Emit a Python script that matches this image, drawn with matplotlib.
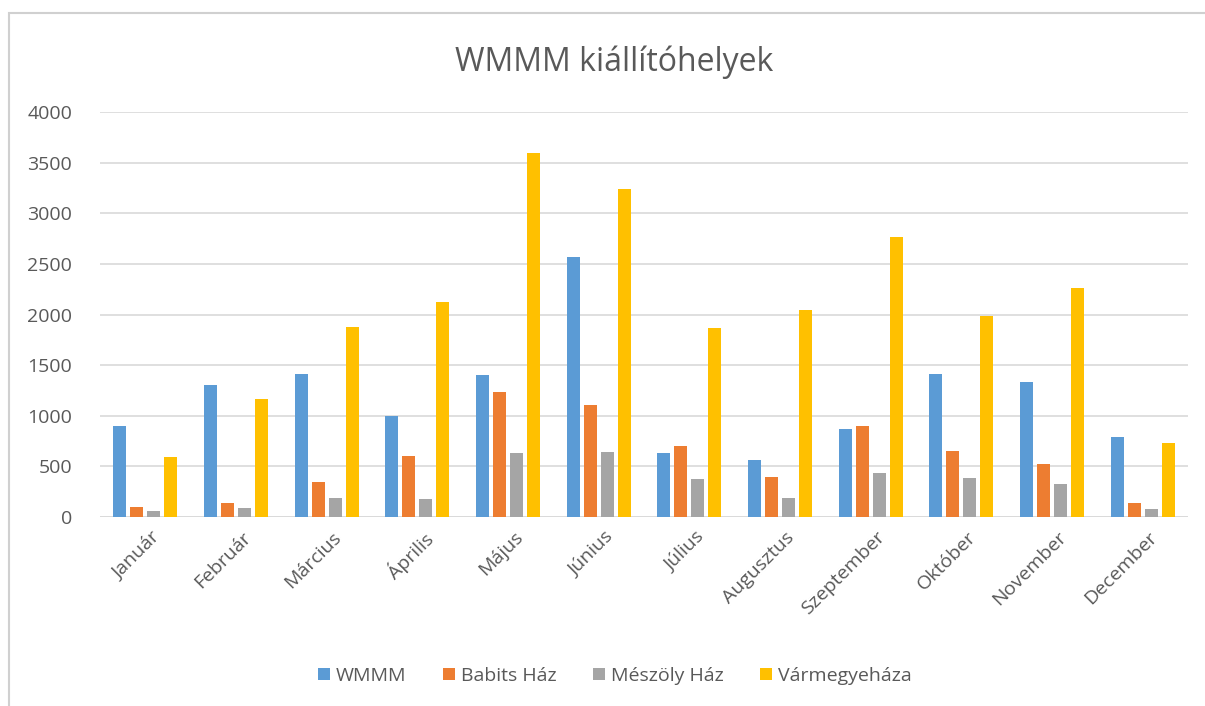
import matplotlib
matplotlib.use("Agg")
import matplotlib.pyplot as plt
import numpy as np
from matplotlib.patches import Rectangle

months = ["Január", "Február", "Március", "Április", "Május", "Június",
          "Július", "Augusztus", "Szeptember", "Október", "November", "December"]
series_names = ["WMMM", "Babits Ház", "Mészöly Ház", "Vármegyeháza"]
wmmm = [900, 1300, 1410, 1000, 1400, 2570, 630, 560, 870, 1410, 1330, 790]
babits = [100, 140, 350, 600, 1230, 1110, 700, 400, 900, 650, 520, 140]
meszoly = [60, 90, 190, 180, 630, 645, 380, 190, 430, 390, 330, 75]
varmegye = [590, 1170, 1880, 2120, 3600, 3240, 1870, 2040, 2770, 1990, 2260, 730]
yticks = [0, 500, 1000, 1500, 2000, 2500, 3000, 3500, 4000]
colors = ["#5B9BD5", "#ED7D31", "#A5A5A5", "#FFC000"]

plt.rcParams['font.family'] = ['Open Sans', 'DejaVu Sans']
fig = plt.figure(figsize=(12.05, 7.06), dpi=100)
fig.patch.set_facecolor("white")
W, H = 1205, 706
# chart border (left/top visible)
fig.patches.append(Rectangle((9 / W, -0.1), 1.2, (706 - 13) / H + 0.1,
                             transform=fig.transFigure, fill=False,
                             edgecolor="#d0d0d0", linewidth=1.5))

ax = fig.add_axes([100 / W, 1 - 517 / H, (1188 - 100) / W, (517 - 112) / H])
x = np.arange(len(months))
data = [wmmm, babits, meszoly, varmegye]
step = 0.1875
width = 0.14
for i, (name, vals, c) in enumerate(zip(series_names, data, colors)):
    ax.bar(x + (i - 1.5) * step, vals, width=width, color=c, label=name, zorder=3)

ax.set_xlim(-0.5, len(months) - 0.5)
ax.set_ylim(0, 4000)
ax.set_yticks(yticks)
ax.set_yticklabels([str(v) for v in yticks])
ax.grid(axis='y', color="#d9d9d9", linewidth=1.2, zorder=0)
for s in ax.spines.values():
    s.set_visible(False)
ax.axhline(0, color="#d9d9d9", linewidth=1.2, zorder=2)
ax.tick_params(axis='y', length=0, pad=20, labelsize=14, labelcolor="#595959")
ax.tick_params(axis='x', length=0, pad=8, labelsize=14, labelcolor="#595959")
ax.set_xticks(x + 0.06)
ax.set_xticklabels(months, rotation=45, ha='right', rotation_mode='anchor')

fig.text(614 / W, 1 - 62 / H, "WMMM kiállítóhelyek", ha='center', va='center',
         fontsize=23, color="#595959")

handles, labels = ax.get_legend_handles_labels()
fig.legend(handles, labels, loc='center', bbox_to_anchor=(615 / W, 1 - 676 / H),
           ncol=4, frameon=False, fontsize=14, labelcolor="#595959",
           handlelength=0.6, handleheight=0.6, handletextpad=0.3, columnspacing=1.9)

fig.savefig("out.png", dpi=100)
